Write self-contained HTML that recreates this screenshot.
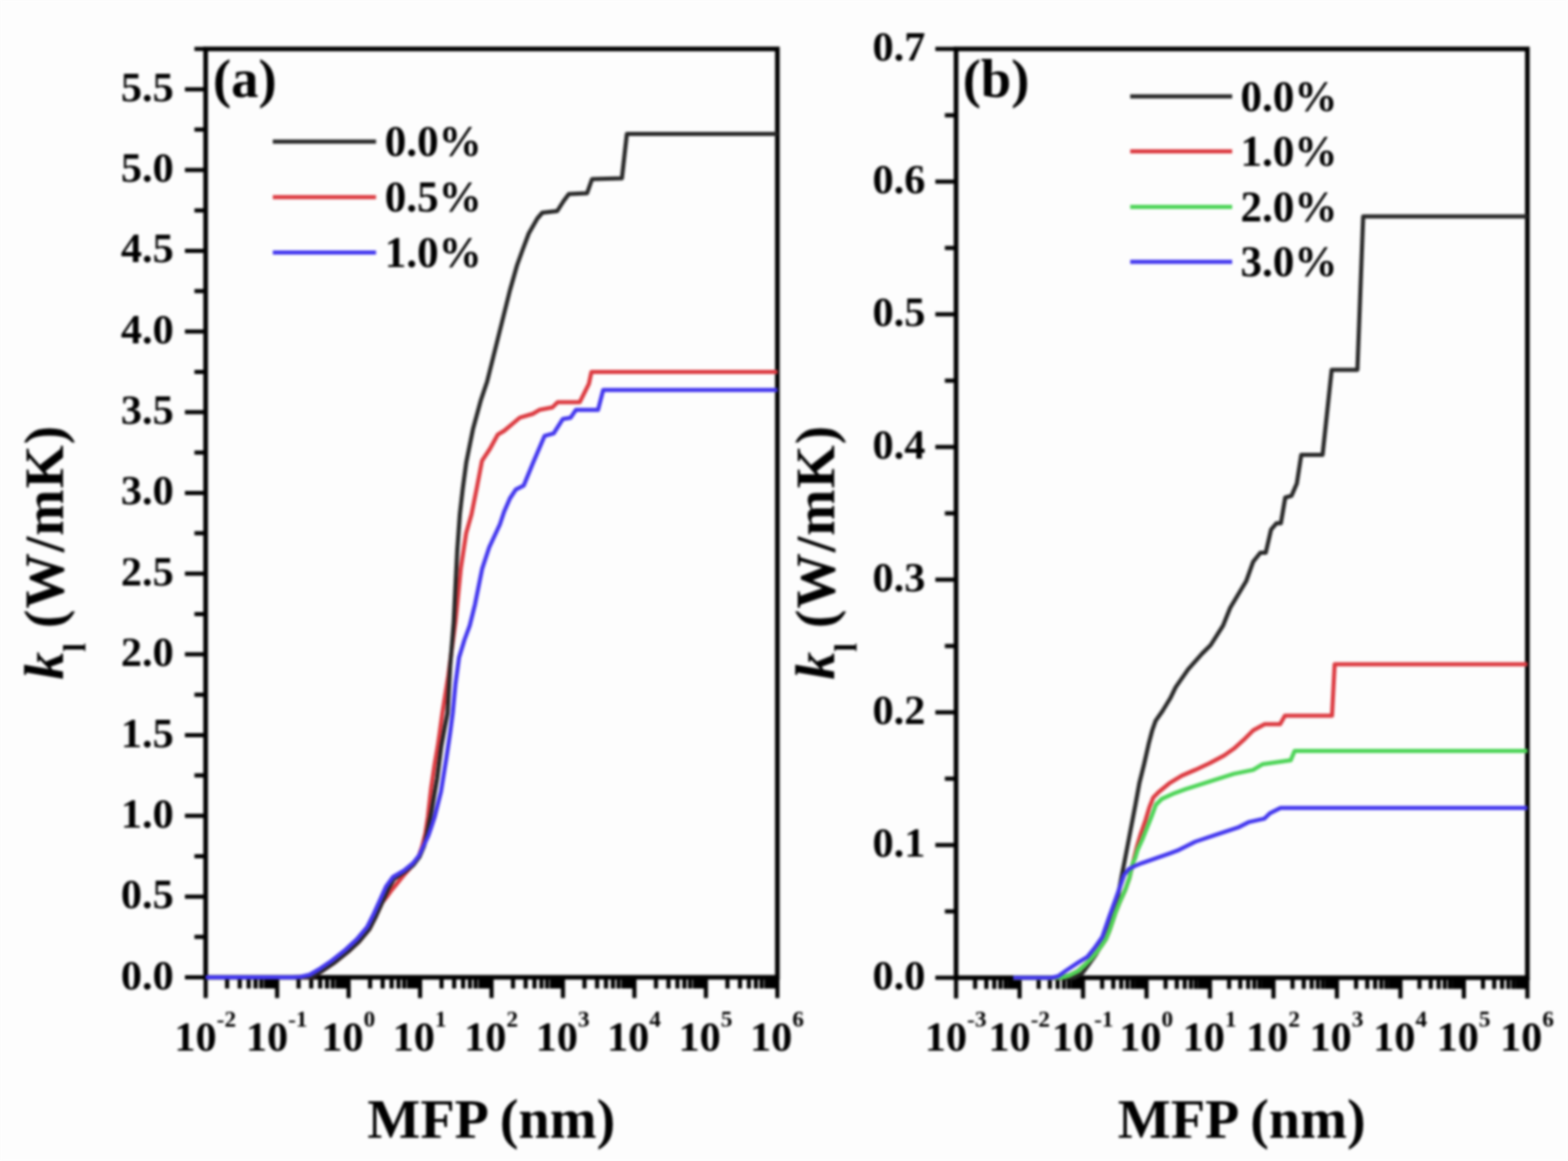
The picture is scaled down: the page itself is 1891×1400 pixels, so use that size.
<!DOCTYPE html>
<html><head><meta charset="utf-8"><title>k_l vs MFP</title><style>

html,body{margin:0;padding:0;background:#fdfdfd;}
body{width:1891px;height:1400px;overflow:hidden;}
svg{display:block;filter:blur(1.4px);}
text{font-family:"Liberation Serif", "Times New Roman", serif;font-weight:bold;fill:#000;}
.tl{font-size:51px;}
.sup{font-size:28px;}
.lg{font-size:52px;}
.pl{font-size:66px;}
.ti{font-size:67.7px;}
.sub{font-size:38px;}

</style></head><body>
<svg width="1891" height="1400" viewBox="0 0 1891 1400">
<rect width="1891" height="1400" fill="#fdfdfd"/>
<path d="M223.0 1178.5H248.0M223.0 1081.2H248.0M223.0 983.8H248.0M223.0 886.5H248.0M223.0 789.1H248.0M223.0 691.8H248.0M223.0 594.4H248.0M223.0 497.1H248.0M223.0 399.7H248.0M223.0 302.4H248.0M223.0 205.0H248.0M223.0 107.7H248.0M234.5 1129.8H248.0M234.5 1032.5H248.0M234.5 935.1H248.0M234.5 837.8H248.0M234.5 740.4H248.0M234.5 643.1H248.0M234.5 545.7H248.0M234.5 448.4H248.0M234.5 351.0H248.0M234.5 253.7H248.0M234.5 156.3H248.0M234.5 59.0H248.0M248.0 1178.5V1203.5M273.9 1178.5V1192.0M289.1 1178.5V1192.0M299.9 1178.5V1192.0M308.2 1178.5V1192.0M315.1 1178.5V1192.0M320.8 1178.5V1192.0M325.8 1178.5V1192.0M330.2 1178.5V1192.0M334.2 1178.5V1203.5M360.1 1178.5V1192.0M375.3 1178.5V1192.0M386.1 1178.5V1192.0M394.4 1178.5V1192.0M401.3 1178.5V1192.0M407.0 1178.5V1192.0M412.0 1178.5V1192.0M416.4 1178.5V1192.0M420.4 1178.5V1203.5M446.3 1178.5V1192.0M461.5 1178.5V1192.0M472.3 1178.5V1192.0M480.6 1178.5V1192.0M487.4 1178.5V1192.0M493.2 1178.5V1192.0M498.2 1178.5V1192.0M502.6 1178.5V1192.0M506.6 1178.5V1203.5M532.5 1178.5V1192.0M547.7 1178.5V1192.0M558.5 1178.5V1192.0M566.8 1178.5V1192.0M573.6 1178.5V1192.0M579.4 1178.5V1192.0M584.4 1178.5V1192.0M588.8 1178.5V1192.0M592.8 1178.5V1203.5M618.7 1178.5V1192.0M633.9 1178.5V1192.0M644.6 1178.5V1192.0M653.0 1178.5V1192.0M659.8 1178.5V1192.0M665.6 1178.5V1192.0M670.6 1178.5V1192.0M675.0 1178.5V1192.0M678.9 1178.5V1203.5M704.9 1178.5V1192.0M720.1 1178.5V1192.0M730.8 1178.5V1192.0M739.2 1178.5V1192.0M746.0 1178.5V1192.0M751.8 1178.5V1192.0M756.8 1178.5V1192.0M761.2 1178.5V1192.0M765.1 1178.5V1203.5M791.1 1178.5V1192.0M806.2 1178.5V1192.0M817.0 1178.5V1192.0M825.4 1178.5V1192.0M832.2 1178.5V1192.0M838.0 1178.5V1192.0M843.0 1178.5V1192.0M847.4 1178.5V1192.0M851.3 1178.5V1203.5M877.3 1178.5V1192.0M892.4 1178.5V1192.0M903.2 1178.5V1192.0M911.6 1178.5V1192.0M918.4 1178.5V1192.0M924.1 1178.5V1192.0M929.1 1178.5V1192.0M933.6 1178.5V1192.0M937.5 1178.5V1203.5" stroke="#000000" stroke-width="5.0" fill="none"/>
<rect x="248.0" y="59.0" width="689.5" height="1119.5" fill="none" stroke="#000000" stroke-width="5.6"/>
<text x="209.5" y="1192.5" text-anchor="end" class="tl">0.0</text>
<text x="209.5" y="1095.2" text-anchor="end" class="tl">0.5</text>
<text x="209.5" y="997.8" text-anchor="end" class="tl">1.0</text>
<text x="209.5" y="900.5" text-anchor="end" class="tl">1.5</text>
<text x="209.5" y="803.1" text-anchor="end" class="tl">2.0</text>
<text x="209.5" y="705.8" text-anchor="end" class="tl">2.5</text>
<text x="209.5" y="608.4" text-anchor="end" class="tl">3.0</text>
<text x="209.5" y="511.1" text-anchor="end" class="tl">3.5</text>
<text x="209.5" y="413.7" text-anchor="end" class="tl">4.0</text>
<text x="209.5" y="316.4" text-anchor="end" class="tl">4.5</text>
<text x="209.5" y="219.0" text-anchor="end" class="tl">5.0</text>
<text x="209.5" y="121.7" text-anchor="end" class="tl">5.5</text>
<text x="247.5" y="1267" text-anchor="middle" class="tl">10<tspan class="sup" dy="-29">-2</tspan></text>
<text x="333.7" y="1267" text-anchor="middle" class="tl">10<tspan class="sup" dy="-29">-1</tspan></text>
<text x="419.9" y="1267" text-anchor="middle" class="tl">10<tspan class="sup" dy="-29">0</tspan></text>
<text x="506.1" y="1267" text-anchor="middle" class="tl">10<tspan class="sup" dy="-29">1</tspan></text>
<text x="592.2" y="1267" text-anchor="middle" class="tl">10<tspan class="sup" dy="-29">2</tspan></text>
<text x="678.4" y="1267" text-anchor="middle" class="tl">10<tspan class="sup" dy="-29">3</tspan></text>
<text x="764.6" y="1267" text-anchor="middle" class="tl">10<tspan class="sup" dy="-29">4</tspan></text>
<text x="850.8" y="1267" text-anchor="middle" class="tl">10<tspan class="sup" dy="-29">5</tspan></text>
<text x="937.0" y="1267" text-anchor="middle" class="tl">10<tspan class="sup" dy="-29">6</tspan></text>
<path d="M1128.0 1179.0H1153.0M1128.0 1019.0H1153.0M1128.0 859.0H1153.0M1128.0 699.0H1153.0M1128.0 539.0H1153.0M1128.0 379.0H1153.0M1128.0 219.0H1153.0M1128.0 59.0H1153.0M1139.5 1099.0H1153.0M1139.5 939.0H1153.0M1139.5 779.0H1153.0M1139.5 619.0H1153.0M1139.5 459.0H1153.0M1139.5 299.0H1153.0M1139.5 139.0H1153.0M1153.0 1179.0V1204.0M1176.0 1179.0V1192.5M1189.5 1179.0V1192.5M1199.1 1179.0V1192.5M1206.5 1179.0V1192.5M1212.6 1179.0V1192.5M1217.7 1179.0V1192.5M1222.1 1179.0V1192.5M1226.1 1179.0V1192.5M1229.6 1179.0V1204.0M1252.6 1179.0V1192.5M1266.1 1179.0V1192.5M1275.6 1179.0V1192.5M1283.1 1179.0V1192.5M1289.1 1179.0V1192.5M1294.3 1179.0V1192.5M1298.7 1179.0V1192.5M1302.6 1179.0V1192.5M1306.1 1179.0V1204.0M1329.2 1179.0V1192.5M1342.6 1179.0V1192.5M1352.2 1179.0V1192.5M1359.6 1179.0V1192.5M1365.7 1179.0V1192.5M1370.8 1179.0V1192.5M1375.2 1179.0V1192.5M1379.2 1179.0V1192.5M1382.7 1179.0V1204.0M1405.7 1179.0V1192.5M1419.2 1179.0V1192.5M1428.8 1179.0V1192.5M1436.2 1179.0V1192.5M1442.2 1179.0V1192.5M1447.4 1179.0V1192.5M1451.8 1179.0V1192.5M1455.7 1179.0V1192.5M1459.2 1179.0V1204.0M1482.3 1179.0V1192.5M1495.7 1179.0V1192.5M1505.3 1179.0V1192.5M1512.7 1179.0V1192.5M1518.8 1179.0V1192.5M1523.9 1179.0V1192.5M1528.4 1179.0V1192.5M1532.3 1179.0V1192.5M1535.8 1179.0V1204.0M1558.8 1179.0V1192.5M1572.3 1179.0V1192.5M1581.9 1179.0V1192.5M1589.3 1179.0V1192.5M1595.3 1179.0V1192.5M1600.5 1179.0V1192.5M1604.9 1179.0V1192.5M1608.8 1179.0V1192.5M1612.3 1179.0V1204.0M1635.4 1179.0V1192.5M1648.9 1179.0V1192.5M1658.4 1179.0V1192.5M1665.8 1179.0V1192.5M1671.9 1179.0V1192.5M1677.0 1179.0V1192.5M1681.5 1179.0V1192.5M1685.4 1179.0V1192.5M1688.9 1179.0V1204.0M1711.9 1179.0V1192.5M1725.4 1179.0V1192.5M1735.0 1179.0V1192.5M1742.4 1179.0V1192.5M1748.5 1179.0V1192.5M1753.6 1179.0V1192.5M1758.0 1179.0V1192.5M1761.9 1179.0V1192.5M1765.4 1179.0V1204.0M1788.5 1179.0V1192.5M1802.0 1179.0V1192.5M1811.5 1179.0V1192.5M1819.0 1179.0V1192.5M1825.0 1179.0V1192.5M1830.1 1179.0V1192.5M1834.6 1179.0V1192.5M1838.5 1179.0V1192.5M1842.0 1179.0V1204.0" stroke="#000000" stroke-width="5.0" fill="none"/>
<rect x="1153.0" y="59.0" width="689.0" height="1120.0" fill="none" stroke="#000000" stroke-width="5.6"/>
<text x="1116.0" y="1193.0" text-anchor="end" class="tl">0.0</text>
<text x="1116.0" y="1033.0" text-anchor="end" class="tl">0.1</text>
<text x="1116.0" y="873.0" text-anchor="end" class="tl">0.2</text>
<text x="1116.0" y="713.0" text-anchor="end" class="tl">0.3</text>
<text x="1116.0" y="553.0" text-anchor="end" class="tl">0.4</text>
<text x="1116.0" y="393.0" text-anchor="end" class="tl">0.5</text>
<text x="1116.0" y="233.0" text-anchor="end" class="tl">0.6</text>
<text x="1116.0" y="73.0" text-anchor="end" class="tl">0.7</text>
<text x="1152.5" y="1267" text-anchor="middle" class="tl">10<tspan class="sup" dy="-29">-3</tspan></text>
<text x="1229.1" y="1267" text-anchor="middle" class="tl">10<tspan class="sup" dy="-29">-2</tspan></text>
<text x="1305.6" y="1267" text-anchor="middle" class="tl">10<tspan class="sup" dy="-29">-1</tspan></text>
<text x="1382.2" y="1267" text-anchor="middle" class="tl">10<tspan class="sup" dy="-29">0</tspan></text>
<text x="1458.7" y="1267" text-anchor="middle" class="tl">10<tspan class="sup" dy="-29">1</tspan></text>
<text x="1535.3" y="1267" text-anchor="middle" class="tl">10<tspan class="sup" dy="-29">2</tspan></text>
<text x="1611.8" y="1267" text-anchor="middle" class="tl">10<tspan class="sup" dy="-29">3</tspan></text>
<text x="1688.4" y="1267" text-anchor="middle" class="tl">10<tspan class="sup" dy="-29">4</tspan></text>
<text x="1764.9" y="1267" text-anchor="middle" class="tl">10<tspan class="sup" dy="-29">5</tspan></text>
<text x="1841.5" y="1267" text-anchor="middle" class="tl">10<tspan class="sup" dy="-29">6</tspan></text>
<polyline points="248.0,1178.5 356.0,1178.5 366.0,1178.3 376.0,1178.2 389.0,1170.5 402.7,1161.2 419.5,1147.9 432.8,1135.6 445.5,1120.5 453.4,1104.8 460.8,1088.5 466.0,1082.0 471.0,1075.0 478.6,1065.7 486.0,1056.4 497.0,1044.0 504.5,1034.0 509.0,1021.0 513.0,1005.0 516.0,985.0 520.0,950.0 524.0,922.9 527.9,900.0 530.3,883.6 533.5,860.0 540.7,814.4 549.3,750.0 555.7,685.7 562.2,642.9 568.7,620.0 575.0,588.6 581.3,555.6 590.7,541.5 600.2,524.2 608.0,519.5 617.4,511.6 626.9,503.7 642.6,499.0 650.5,494.3 666.2,491.2 672.5,484.9 699.2,484.9 710.2,462.9 713.3,448.5 937.5,448.5" fill="none" stroke="#dc3a40" stroke-width="5.0" stroke-linejoin="round" stroke-linecap="butt"/>
<polyline points="248.0,1178.5 356.0,1178.5 366.0,1178.3 376.0,1178.2 389.0,1170.5 402.7,1161.2 419.5,1147.9 432.8,1135.6 445.5,1120.5 453.4,1104.8 460.8,1088.5 468.2,1071.9 475.0,1060.0 487.0,1052.0 498.5,1043.0 506.0,1033.0 511.5,1020.0 515.0,1005.0 520.0,980.0 527.2,938.6 532.2,900.0 536.6,875.7 539.7,860.0 542.9,803.6 547.2,750.0 551.4,664.3 554.6,620.0 558.0,590.0 562.4,557.2 570.3,517.9 579.7,483.3 587.6,459.7 591.0,446.0 595.5,428.0 600.0,410.0 605.0,390.0 610.0,370.0 615.0,350.0 619.0,336.0 623.5,320.0 630.0,302.0 637.7,281.5 648.0,263.5 654.0,256.5 672.0,254.5 680.0,242.0 686.0,234.0 708.0,233.0 714.0,216.0 750.0,215.0 756.0,161.5 937.5,161.5" fill="none" stroke="#262626" stroke-width="5.0" stroke-linejoin="round" stroke-linecap="butt"/>
<polyline points="248.0,1178.5 352.0,1178.5 362.0,1178.0 373.3,1175.5 386.3,1167.8 400.0,1158.5 416.8,1145.2 430.1,1132.9 442.8,1117.8 450.7,1102.1 458.1,1085.8 465.5,1069.2 474.0,1057.5 487.0,1050.0 498.0,1041.0 505.5,1031.5 511.5,1018.5 516.5,1008.0 520.0,998.0 524.0,985.8 531.9,954.3 538.2,915.0 542.9,883.6 546.0,860.0 549.3,825.0 553.6,793.0 560.0,772.0 566.5,754.3 572.9,728.6 581.5,685.7 590.0,660.0 602.9,632.2 608.0,617.0 615.0,601.0 622.2,590.2 631.6,585.5 642.6,558.7 656.7,525.7 667.7,522.6 678.7,505.3 688.2,503.7 694.5,494.3 721.2,494.3 727.5,470.2 937.5,470.2" fill="none" stroke="#4236ee" stroke-width="5.0" stroke-linejoin="round" stroke-linecap="butt"/>
<polyline points="1222.0,1179.0 1295.0,1179.0 1305.2,1173.6 1313.5,1162.2 1321.8,1150.8 1330.1,1136.3 1336.3,1121.8 1342.5,1102.1 1348.7,1078.3 1352.9,1055.5 1356.0,1040.0 1363.4,1001.4 1369.4,970.0 1374.0,944.7 1379.8,921.4 1385.6,895.8 1389.5,881.0 1393.7,869.1 1401.9,857.5 1411.2,842.3 1417.9,828.6 1432.9,807.1 1450.0,787.9 1460.0,778.0 1475.0,754.4 1483.6,733.0 1502.9,700.8 1511.4,677.2 1520.0,666.5 1526.5,666.5 1532.9,638.6 1539.3,631.1 1544.7,631.1 1550.0,600.0 1557.5,597.9 1564.0,582.9 1569.3,548.6 1595.0,548.6 1606.0,446.0 1637.0,446.0 1644.0,261.0 1842.0,261.0" fill="none" stroke="#262626" stroke-width="5.0" stroke-linejoin="round" stroke-linecap="butt"/>
<polyline points="1222.0,1179.0 1280.0,1179.0 1290.0,1176.0 1300.0,1171.0 1308.0,1164.0 1315.0,1157.0 1322.0,1149.0 1328.0,1141.0 1334.0,1132.0 1338.5,1121.0 1345.0,1101.4 1350.7,1087.1 1357.1,1072.9 1362.1,1058.6 1366.0,1042.0 1371.2,1020.7 1375.9,1005.0 1381.4,989.3 1386.1,973.6 1390.8,961.8 1397.2,955.2 1410.0,944.7 1425.2,935.4 1441.4,928.4 1458.9,920.3 1476.3,911.0 1488.0,902.8 1499.6,892.4 1511.3,880.7 1525.2,873.2 1543.8,873.2 1549.6,863.0 1606.4,863.0 1609.6,801.0 1842.0,801.0" fill="none" stroke="#dc3a40" stroke-width="5.0" stroke-linejoin="round" stroke-linecap="butt"/>
<polyline points="1222.0,1179.0 1280.0,1179.0 1290.0,1176.0 1300.0,1171.0 1308.0,1164.0 1315.0,1157.0 1322.0,1149.0 1328.0,1141.0 1334.0,1132.0 1338.5,1121.0 1345.0,1101.4 1350.7,1087.1 1357.1,1072.9 1362.1,1058.6 1366.0,1041.0 1369.0,1034.8 1372.0,1024.6 1377.5,1012.8 1383.8,997.1 1388.5,985.3 1394.0,970.4 1401.1,963.4 1416.8,956.3 1429.8,951.7 1458.9,942.4 1488.0,933.1 1511.3,928.4 1522.9,921.4 1556.6,916.8 1561.3,905.5 1842.0,905.5" fill="none" stroke="#4cd456" stroke-width="5.0" stroke-linejoin="round" stroke-linecap="butt"/>
<polyline points="1222.0,1179.0 1268.0,1179.0 1276.0,1177.3 1285.5,1170.5 1301.1,1160.1 1311.4,1153.9 1319.7,1143.6 1329.3,1130.0 1337.9,1105.0 1345.7,1083.6 1350.7,1069.3 1355.7,1055.0 1361.4,1047.9 1368.6,1044.3 1377.0,1040.8 1394.2,1034.8 1411.4,1028.8 1420.0,1025.7 1441.4,1015.0 1467.1,1006.4 1492.9,997.9 1505.7,991.4 1525.0,987.1 1531.4,980.7 1544.3,974.3 1842.0,974.3" fill="none" stroke="#4236ee" stroke-width="5.0" stroke-linejoin="round" stroke-linecap="butt"/>
<line x1="329.0" y1="170.7" x2="453.5" y2="170.7" stroke="#262626" stroke-width="5.0"/>
<text x="464.0" y="188.2" class="lg">0.0%</text>
<line x1="329.0" y1="237.7" x2="453.5" y2="237.7" stroke="#dc3a40" stroke-width="5.0"/>
<text x="464.0" y="255.2" class="lg">0.5%</text>
<line x1="329.0" y1="304.5" x2="453.5" y2="304.5" stroke="#4236ee" stroke-width="5.0"/>
<text x="464.0" y="322.0" class="lg">1.0%</text>
<line x1="1363.0" y1="116.3" x2="1486.0" y2="116.3" stroke="#262626" stroke-width="5.0"/>
<text x="1496.0" y="133.8" class="lg">0.0%</text>
<line x1="1363.0" y1="182.4" x2="1486.0" y2="182.4" stroke="#dc3a40" stroke-width="5.0"/>
<text x="1496.0" y="199.9" class="lg">1.0%</text>
<line x1="1363.0" y1="249.6" x2="1486.0" y2="249.6" stroke="#4cd456" stroke-width="5.0"/>
<text x="1496.0" y="267.1" class="lg">2.0%</text>
<line x1="1363.0" y1="315.7" x2="1486.0" y2="315.7" stroke="#4236ee" stroke-width="5.0"/>
<text x="1496.0" y="333.2" class="lg">3.0%</text>
<text x="256.7" y="117" class="pl">(a)</text>
<text x="1160.9" y="117" class="pl">(b)</text>
<text x="592.5" y="1372" text-anchor="middle" class="ti">MFP (nm)</text>
<text x="1497.5" y="1372" text-anchor="middle" class="ti">MFP (nm)</text>
<text transform="translate(76.0 819.5) rotate(-90)" class="ti" style="font-size:67px"><tspan font-style="italic">k</tspan><tspan class="sub" dy="27">l</tspan><tspan dy="-27" letter-spacing="1.2"> (W/mK)</tspan></text>
<text transform="translate(1006.0 819.5) rotate(-90)" class="ti" style="font-size:67px"><tspan font-style="italic">k</tspan><tspan class="sub" dy="27">l</tspan><tspan dy="-27" letter-spacing="1.2"> (W/mK)</tspan></text>
</svg></body></html>
